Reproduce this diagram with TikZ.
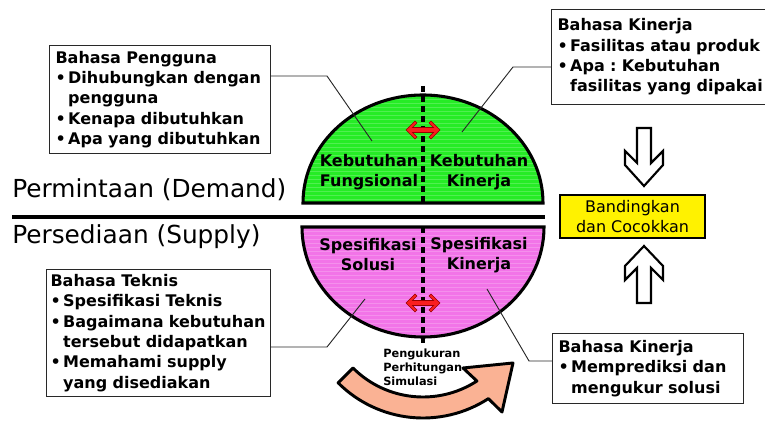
\documentclass[tikz,border=0pt]{standalone}
\usepackage{fontspec}
\setmainfont{DejaVu Sans}
\usetikzlibrary{calc}
\frenchspacing
\definecolor{greenfill}{RGB}{38,236,38}
\definecolor{pinkfill}{RGB}{242,116,232}
\definecolor{orangefill}{RGB}{250,178,148}
\definecolor{redfill}{RGB}{250,30,30}
\definecolor{reddark}{RGB}{150,0,0}
\definecolor{linegray}{RGB}{40,40,40}
\newcommand\bl[1]{\mbox{\makebox[9.5pt][l]{\textbullet}#1}}
\newcommand\cl[1]{\mbox{\hspace*{9.5pt}#1}}
\newcommand\redarr[2]{%
  \draw[redarrow,shift={(#1,#2)}] (-17,0) -- (-8,9) -- (-6,7) -- (-10.5,2.5) -- (10.5,2.5) -- (6,7) -- (8,9) -- (17,0) -- (8,-9) -- (6,-7) -- (10.5,-2.5) -- (-10.5,-2.5) -- (-6,-7) -- (-8,-9) -- cycle;}
\begin{document}
\begin{tikzpicture}[x=0.75pt,y=0.75pt,
  infobox/.style={draw=linegray,line width=0.8pt,fill=white,anchor=north west,align=left,
    font=\fontsize{12}{15.3}\selectfont\bfseries,inner ysep=2pt},
  halftext/.style={align=center,font=\fontsize{12}{15}\selectfont\bfseries,inner sep=0pt},
  bigtext/.style={anchor=west,font=\fontsize{18.6}{22}\selectfont,inner sep=0pt},
  conn/.style={draw=linegray,line width=0.7pt},
  dline/.style={line width=2.3pt,dash pattern=on 4.5pt off 3pt},
  redarrow/.style={fill=redfill,draw=reddark,line width=0.5pt,line join=miter},
  hollow/.style={draw=black,fill=white,line width=1.6pt,line join=miter},
  stripes/.style={white,opacity=0.2,line width=0.5pt}]
\useasboundingbox (0,0) rectangle (765,-423);
\clip (0,0) rectangle (765,-423);

% ---------- green half (demand) ----------
\fill[greenfill] (303,-203) arc[start angle=180,end angle=0,x radius=120,y radius=108] -- cycle;
\begin{scope}
  \clip (303,-203) arc[start angle=180,end angle=0,x radius=120,y radius=108] -- cycle;
  \foreach \yy in {0,4,...,112} \draw[stripes] (300,-95-\yy) -- (546,-95-\yy);
\end{scope}
\draw[line width=2.3pt] (303,-203) arc[start angle=180,end angle=0,x radius=120,y radius=108] -- cycle;
\draw[dline] (423,-86) -- (423,-203);

% ---------- pink half (supply) ----------
\fill[pinkfill] (302,-227) arc[start angle=180,end angle=360,x radius=121,y radius=110] -- cycle;
\begin{scope}
  \clip (302,-227) arc[start angle=180,end angle=360,x radius=121,y radius=110] -- cycle;
  \foreach \yy in {0,4,...,112} \draw[stripes] (300,-227-\yy) -- (546,-227-\yy);
\end{scope}
\draw[line width=2.3pt] (302,-227) arc[start angle=180,end angle=360,x radius=121,y radius=110] -- cycle;
\draw[dline] (423,-227) -- (423,-345);

% separator line
\draw[line width=2.3pt] (12,-217) -- (545,-217);

% red double arrows
\redarr{423}{-130}
\redarr{423}{-303}

% texts in halves
\node[halftext] (kf) at (369,-172) {Kebutuhan\\Fungsional};
\node[halftext] (kk) at (479,-172) {Kebutuhan\\Kinerja};
\node[halftext] (ss) at (368,-255) {Spesifikasi\\Solusi};
\node[halftext] (sk) at (479,-255) {Spesifikasi\\Kinerja};

% demand / supply labels
\node[bigtext] (dem) at (12,-190) {Permintaan (Demand)};
\node[bigtext] (sup) at (12,-237) {Persediaan (Supply)};

% orange curved arrow
\draw[fill=orangefill,line width=2.2pt,line join=round]
  (423,-298) ++(225:99) arc[start angle=225,end angle=303,radius=99]
  -- (463,-368) -- (513,-363) -- (502,-412)
  -- ($(423,-298)+(303:120)$) arc[start angle=303,end angle=225,radius=120] -- cycle;

\node[anchor=west,align=left,inner sep=0pt,font=\fontsize{8.5}{10.5}\selectfont\bfseries] (peng) at (383,-367) {Pengukuran\\Perhitungan\\Simulasi};

% info boxes
\node[infobox,minimum width=165.75pt,minimum height=81pt,text width=156.75pt,inner xsep=4.5pt] (b1) at (49,-45)
 {Bahasa Pengguna\\\bl{Dihubungkan dengan}\\\cl{pengguna}\\\bl{Kenapa dibutuhkan}\\\bl{Apa yang dibutuhkan}};
\node[infobox,minimum width=166pt,minimum height=71.25pt,text width=157pt,inner xsep=4.5pt] (b2) at (551,-9)
 {Bahasa Kinerja\\\bl{Fasilitas atau produk}\\\bl{Apa : Kebutuhan}\\\cl{fasilitas yang dipakai}};
\node[infobox,minimum width=168pt,minimum height=95.25pt,text width=162pt,inner xsep=3pt] (b3) at (46,-269)
 {Bahasa Teknis\\\bl{Spesifikasi Teknis}\\\bl{Bagaimana kebutuhan}\\\cl{tersebut didapatkan}\\\bl{Memahami supply}\\\cl{yang disediakan}};
\node[infobox,minimum width=143.25pt,minimum height=52.5pt,text width=134.25pt,inner xsep=4.5pt] (b4) at (552,-333)
 {Bahasa Kinerja\\\bl{Memprediksi dan}\\\cl{mengukur solusi}};

% connectors
\coordinate (p1) at (372,-141); \coordinate (k1) at (327,-76);
\coordinate (p2) at (462,-132); \coordinate (k2) at (513,-67);
\coordinate (p3) at (365,-299); \coordinate (k3) at (327,-347);
\coordinate (p4) at (487,-289); \coordinate (k4) at (529,-361);
\draw[conn] (k1 -| b1.east) -- (k1) -- (p1);
\draw[conn] (k2 -| b2.west) -- (k2) -- (p2);
\draw[conn] (k3 -| b3.east) -- (k3) -- (p3);
\draw[conn] (k4 -| b4.west) -- (k4) -- (p4);

% compare box
\node[draw=black,line width=2pt,fill=yellow,minimum width=108.75pt,minimum height=32.25pt,
  align=center,font=\fontsize{12}{15}\selectfont,inner sep=0pt] (cmp) at (632.5,-216.5) {Bandingkan\\dan Cocokkan};

% hollow arrows
\draw[hollow] (637,-128) -- (651,-128) -- (651,-163) -- (663,-151) -- (663,-165) -- (644,-186) -- (625,-165) -- (625,-151) -- (637,-163) -- cycle;
\draw[hollow] (637,-303) -- (651,-303) -- (651,-268) -- (663,-280) -- (663,-266) -- (644,-246) -- (625,-266) -- (625,-280) -- (637,-268) -- cycle;
\end{tikzpicture}
\end{document}
